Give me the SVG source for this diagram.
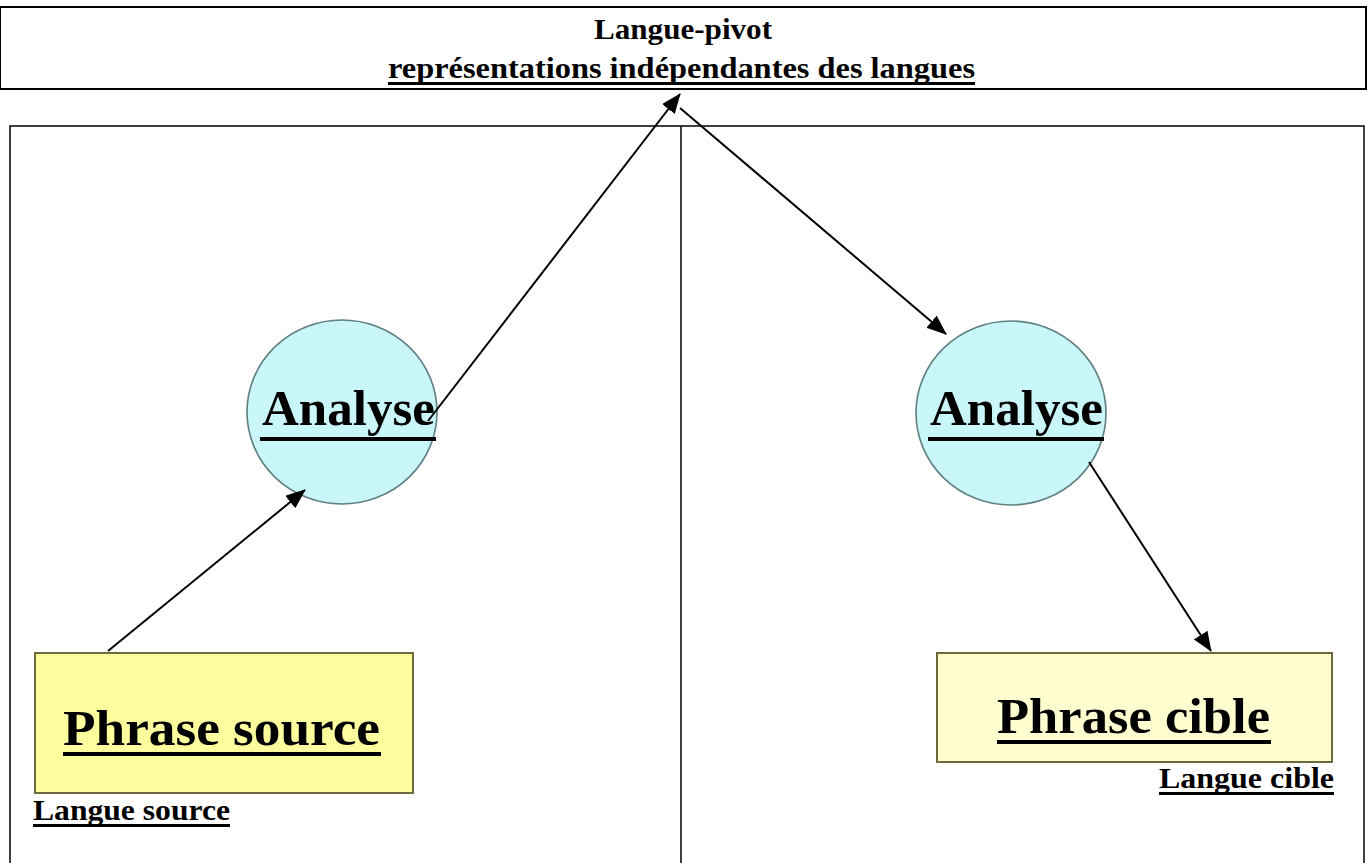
<svg xmlns="http://www.w3.org/2000/svg" width="1368" height="863" viewBox="0 0 1368 863">
  <style>
    .t { font-family: "Liberation Serif", "DejaVu Serif", "Times New Roman", serif; font-weight: bold; fill: #000; }
    .frame { fill: none; stroke: #000; }
    .conn { stroke: #000; stroke-width: 2; fill: none; marker-end: url(#head); }
    .bubble { fill: #c9f6f9; stroke: #5f7f80; stroke-width: 1.6; }
    .ul { fill: #000; }
  </style>
  <defs>
    <marker id="head" viewBox="0 0 20 16" refX="19" refY="8" markerWidth="20" markerHeight="16" markerUnits="userSpaceOnUse" orient="auto">
      <path d="M0,0 L20,8 L0,16 z" fill="#000"/>
    </marker>
  </defs>
  <rect width="1368" height="863" fill="#fff"/>

  <!-- header: pivot language -->
  <g id="pivot">
    <rect class="frame" x="0" y="7" width="1366" height="82" stroke-width="2"/>
    <text class="t" x="594" y="39" font-size="30" textLength="178" lengthAdjust="spacingAndGlyphs">Langue-pivot</text>
    <text class="t" x="388" y="78" font-size="30" textLength="587" lengthAdjust="spacingAndGlyphs">représentations indépendantes des langues</text>
    <rect class="ul" x="388" y="82" width="587" height="3"/>
  </g>

  <!-- two-column frame -->
  <g id="panels">
    <rect class="frame" x="10" y="126" width="1354" height="760" stroke-width="1.5"/>
    <line class="frame" x1="681" y1="126" x2="681" y2="863" stroke-width="1.5"/>
  </g>

  <!-- left column -->
  <g id="analyse-left">
    <ellipse class="bubble" cx="342" cy="412" rx="95" ry="92"/>
    <text class="t" x="262" y="425" font-size="50" textLength="173" lengthAdjust="spacingAndGlyphs">Analyse</text>
    <rect class="ul" x="260" y="437" width="176" height="4"/>
  </g>
  <g id="phrase-source">
    <rect x="35" y="653" width="378" height="140" fill="#fdfd9e" stroke="#6e6a3e" stroke-width="2"/>
    <text class="t" x="63" y="745" font-size="50" textLength="317" lengthAdjust="spacingAndGlyphs">Phrase source</text>
    <rect class="ul" x="63" y="752" width="318" height="4"/>
  </g>
  <g id="langue-source">
    <text class="t" x="33" y="820" font-size="30" textLength="197" lengthAdjust="spacingAndGlyphs">Langue source</text>
    <rect class="ul" x="33" y="824" width="197" height="3"/>
  </g>

  <!-- right column -->
  <g id="analyse-right">
    <ellipse class="bubble" cx="1011" cy="413" rx="95" ry="92"/>
    <text class="t" x="930" y="425" font-size="50" textLength="173" lengthAdjust="spacingAndGlyphs">Analyse</text>
    <rect class="ul" x="928" y="437" width="176" height="4"/>
  </g>
  <g id="phrase-cible">
    <rect x="937" y="653" width="395" height="109" fill="#fefdd0" stroke="#6e6a3e" stroke-width="2"/>
    <text class="t" x="997" y="733" font-size="50" textLength="273" lengthAdjust="spacingAndGlyphs">Phrase cible</text>
    <rect class="ul" x="997" y="740" width="274" height="4"/>
  </g>
  <g id="langue-cible">
    <text class="t" x="1159" y="788" font-size="30" textLength="175" lengthAdjust="spacingAndGlyphs">Langue cible</text>
    <rect class="ul" x="1159" y="792" width="175" height="3"/>
  </g>

  <!-- connectors -->
  <g id="connectors">
    <line class="conn" x1="108" y1="651" x2="305" y2="490"/>
    <line class="conn" x1="428" y1="421" x2="680" y2="94"/>
    <line class="conn" x1="680" y1="108" x2="946" y2="334"/>
    <line class="conn" x1="1089" y1="462" x2="1211" y2="651"/>
  </g>
</svg>
